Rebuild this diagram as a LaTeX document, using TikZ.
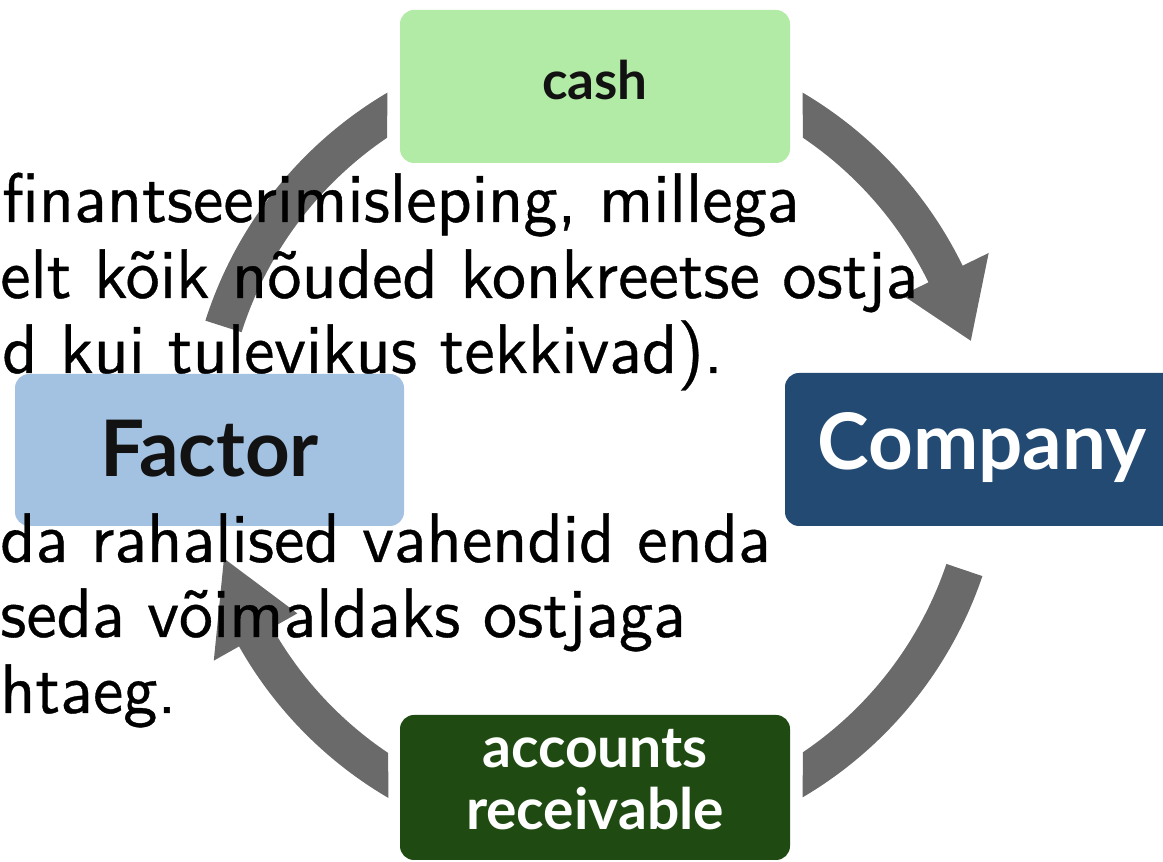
\documentclass[tikz,border=0pt]{standalone}
\usepackage{fontspec}
\newfontfamily\labelfont{Lato}
\newfontfamily\txtfont{lmsans10-regular.otf}[FakeStretch=0.975, FakeBold=0.5]
\definecolor{arrowgray}{HTML}{6A6A6A}
\definecolor{cashgreen}{HTML}{B2EBA5}
\definecolor{factorblue}{HTML}{A3C2E2}
\definecolor{companyblue}{HTML}{234A72}
\definecolor{argreen}{HTML}{1F4B12}
\begin{document}
\begin{tikzpicture}[x=1pt,y=1pt,
  box/.style={rounded corners=14pt, inner sep=0pt, text depth=0pt},
  band/.style={fill=arrowgray},
  txt/.style={anchor=base west, inner sep=0pt, text=black,
    font=\txtfont\fontsize{70}{84}\selectfont}]
\useasboundingbox (0,0) rectangle (1163,862);
\clip (0,0) rectangle (1163,862);
\coordinate (ctr) at (595,417);
% circular arrows
\begin{scope}[shift={(ctr)}]
  % cash -> Company
  \fill[band] (59.51:409) arc[start angle=59.51, end angle=26, radius=409]
    -- (26:438) -- (15.5:390) -- (26:342) -- (26:371)
    arc[start angle=26, end angle=55.90, radius=371] -- cycle;
  % Company -> accounts receivable
  \fill[band] (-18.7:409) arc[start angle=-18.7, end angle=-59.51, radius=409]
    -- (-55.90:371) arc[start angle=-55.90, end angle=-18.7, radius=371] -- cycle;
  % accounts receivable -> Factor
  \fill[band] (239.67:409) arc[start angle=239.67, end angle=209.5, radius=409]
    -- (209.5:438) -- (197:388) -- (209.5:342) -- (209.5:371)
    arc[start angle=209.5, end angle=236.1, radius=371] -- cycle;
  % Factor -> cash
  \fill[band] (162.3:409) arc[start angle=162.3, end angle=120.49, radius=409]
    -- (124.1:371) arc[start angle=124.1, end angle=162.3, radius=371] -- cycle;
\end{scope}
% boxes
\node[box, fill=cashgreen, minimum width=390pt, minimum height=153pt,
  text height=27pt, text=black!93,
  font=\labelfont\bfseries\fontsize{53}{62}\selectfont] (cash) at (595,775.5) {cash};
\node[box, fill=factorblue, minimum width=389pt, minimum height=152pt,
  text height=54pt, text=black!93,
  font=\labelfont\bfseries\fontsize{78}{90}\selectfont] (factor) at (209.5,412) {Factor};
\node[box, fill=companyblue, minimum width=394pt, minimum height=153pt,
  text height=41pt, text=white,
  font=\labelfont\bfseries\fontsize{78}{90}\selectfont] (company) at (982,412.5) {Company};
\node[box, fill=argreen, minimum width=390pt, minimum height=145pt,
  text height=85pt, text=white,
  font=\labelfont\bfseries\fontsize{57}{62}\selectfont] (ar) at (595,74.5)
  {\vbox{\hbox to 0pt{\hss accounts\hss}\hbox to 0pt{\hss receivable\hss}}};
% overlaid text
\node[txt] (t1) at (2,640) {finantseerimisleping, millega};
\node[txt] (t2) at (0,564) {elt kõik nõuded konkreetse ostja};
\node[txt] (t3) at (2,489) {d kui tulevikus tekkivad).};
\node[txt] (t4) at (0,300) {da rahalised vahendid enda};
\node[txt] (t5) at (0,225) {seda võimaldaks ostjaga};
\node[txt] (t6) at (0,149) {htaeg.};
\end{tikzpicture}
\end{document}
